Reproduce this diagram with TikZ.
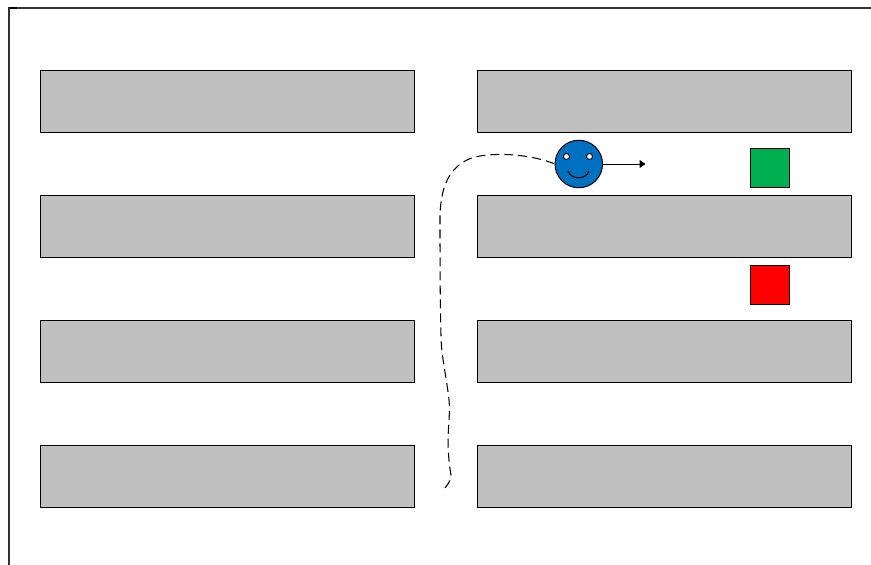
\documentclass[tikz,border=0pt]{standalone}
\usetikzlibrary{arrows.meta}
\tikzset{
  shelf/.style={draw=black,fill=shelfgray,line width=1pt,minimum width=374.6pt,minimum height=62.6pt,inner sep=0pt,outer sep=0pt},
  marker/.style={draw=black,line width=0.8pt,minimum size=39.5pt,inner sep=0pt,outer sep=0pt},
  face/.style={circle,draw=black,fill=faceblue,line width=1pt,minimum size=47.5pt,inner sep=0pt,outer sep=0pt},
  eye/.style={circle,draw=black,fill=white,line width=0.9pt,minimum size=6pt,inner sep=0pt,outer sep=0pt},
  route/.style={draw=black,line width=1.05pt,dash pattern=on 9pt off 5pt},
  heading/.style={draw=black,line width=1pt,-{Triangle[length=6pt,width=8pt]}},
  frame/.style={draw=black!80,line width=1.2pt}
}
\definecolor{shelfgray}{RGB}{192,192,192}
\definecolor{faceblue}{RGB}{0,112,192}
\definecolor{markgreen}{RGB}{0,176,80}
\definecolor{markred}{RGB}{255,0,0}
\begin{document}
\begin{tikzpicture}[x=1pt,y=-1pt]
\useasboundingbox (0,0) rectangle (871,565);
% frame
\coordinate (fc) at (9,8);
\coordinate (fr) at (871,8);
\coordinate (fb) at (9,565);
\draw[frame] (fr) -- (fc) -- (fb);
\draw[black,line width=1.4pt] (fc) -- ++(8,0);
% shelves
\node[shelf] (l1) at (227.5,101.5) {};
\node[shelf] (l2) at (227.5,226.5) {};
\node[shelf] (l3) at (227.5,351.5) {};
\node[shelf] (l4) at (227.5,476.5) {};
\node[shelf] (r1) at (664.5,101.5) {};
\node[shelf] (r2) at (664.5,226.5) {};
\node[shelf] (r3) at (664.5,351.5) {};
\node[shelf] (r4) at (664.5,476.5) {};
% markers
\node[marker,fill=markgreen] (green) at (769.8,168) {};
\node[marker,fill=markred] (red) at (769.8,285) {};
% route
\coordinate (start) at (445,488);
\node[face] (smiley) at (578.8,164) {};
\node[eye] (eyeL) at (566.5,156.5) {};
\node[eye] (eyeR) at (589.5,156.5) {};
\coordinate (smileL) at (568,171);
\coordinate (smileR) at (589,171);
\draw[black,line width=1.05pt] (smileL) .. controls (571,180) and (586,180) .. (smileR);
\draw[route] (start) .. controls (449,483) and (451,479) .. (451,475)
  .. controls (449,465) and (448,450) .. (448,437)
  .. controls (449,420) and (450,410) .. (449,400)
  .. controls (447,380) and (441,355) .. (441,335)
  .. controls (440,300) and (440,250) .. (440,215)
  .. controls (440.5,200) and (443,186) .. (450,175)
  .. controls (456,166) and (466,158) .. (480,156)
  .. controls (505,152) and (535,156) .. (smiley.west |- 0,164);
% heading arrow
\coordinate (aim) at (645.5,164);
\draw[heading] (smiley.east) -- (aim);
\end{tikzpicture}
\end{document}
